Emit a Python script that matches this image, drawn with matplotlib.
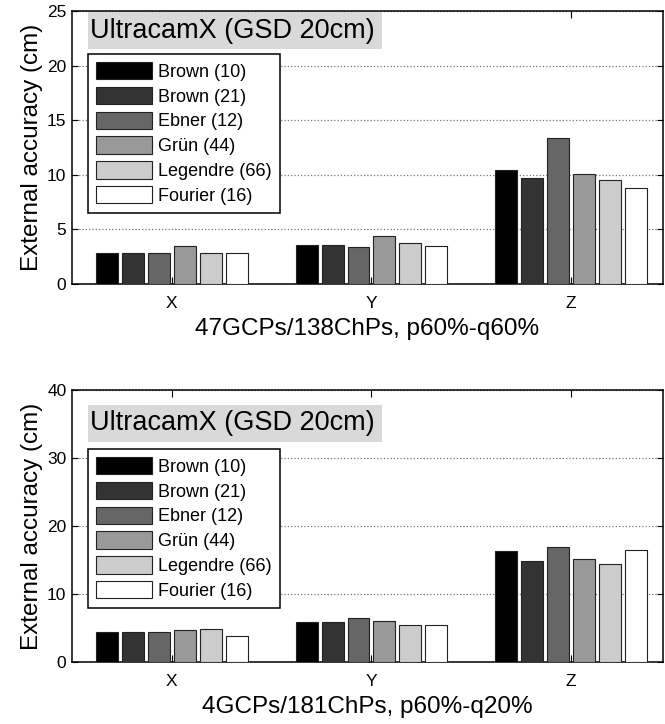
import numpy as np
import matplotlib
matplotlib.use('Agg')
import matplotlib.pyplot as plt
from matplotlib.patches import Patch, Rectangle

plt.rcParams['font.family'] = ['Liberation Sans', 'DejaVu Sans']

axes_labels = ['X', 'Y', 'Z']
methods = ['Brown (10)', 'Brown (21)', 'Ebner (12)', 'Grün (44)', 'Legendre (66)', 'Fourier (16)']
colors = ['#000000', '#333333', '#666666', '#999999', '#cccccc', '#ffffff']

# top panel: 47GCPs/138ChPs, p60%-q60%
top_vals = [
    [2.85, 3.6, 10.45],   # Brown (10)
    [2.85, 3.6, 9.7],     # Brown (21)
    [2.85, 3.35, 13.35],  # Ebner (12)
    [3.45, 4.35, 10.05],  # Grün (44)
    [2.85, 3.75, 9.55],   # Legendre (66)
    [2.85, 3.45, 8.8],    # Fourier (16)
]
# bottom panel: 4GCPs/181ChPs, p60%-q20%
bot_vals = [
    [4.45, 5.9, 16.3],
    [4.45, 5.9, 14.9],
    [4.45, 6.5, 16.95],
    [4.65, 6.1, 15.1],
    [4.85, 5.45, 14.45],
    [3.85, 5.45, 16.5],
]

W, H = 665, 724
fig = plt.figure(figsize=(W / 100, H / 100), dpi=100)


def px(x0, y0, x1, y1):
    # pixel box (top-left origin) -> figure rect
    return [x0 / W, 1 - y1 / H, (x1 - x0) / W, (y1 - y0) / H]


def panel(rect, vals, ymax, yticks, xlabel, legend_top, box_top):
    ax = fig.add_axes(rect)
    x = np.arange(1, 4)
    for i, v in enumerate(vals):
        ax.bar(x + (i - 2.5) * 0.13, v, width=0.11, color=colors[i],
               edgecolor='#222222', linewidth=0.8, zorder=3)
    ax.set_xlim(0.5, 3.46)
    ax.set_ylim(0, ymax)
    ax.set_xticks(x)
    ax.set_xticklabels(axes_labels, fontsize=12.5)
    ax.set_yticks(yticks)
    ax.tick_params(axis='y', labelsize=12.5, direction='in', length=4, pad=4, right=True)
    ax.tick_params(axis='x', direction='in', length=5, pad=9, top=True)
    ax.grid(axis='y', linestyle=':', color='#777777', linewidth=0.9, zorder=0)
    for s in ax.spines.values():
        s.set_linewidth(1.1)
    ax.set_ylabel('External accuracy (cm)', fontsize=17.5, labelpad=3)
    ax.set_xlabel(xlabel, fontsize=17.5, labelpad=5)

    # grey title box
    fig.patches.append(Rectangle((88 / W, 1 - (box_top + 37) / H), 294 / W, 37 / H,
                                 transform=fig.transFigure, facecolor='#d9d9d9',
                                 edgecolor='none', zorder=5))
    fig.text(90 / W, 1 - (box_top + 18.5) / H, 'UltracamX (GSD 20cm)', fontsize=19.5,
             va='center', ha='left', zorder=6)

    handles = [Patch(facecolor=c, edgecolor='#222222', linewidth=0.8) for c in colors]
    leg = ax.legend(handles, methods, loc='upper left',
                    bbox_to_anchor=(88 / W, 1 - legend_top / H),
                    bbox_transform=fig.transFigure, borderaxespad=0,
                    fontsize=13, handlelength=3.1, handleheight=1.1,
                    labelspacing=0.33, handletextpad=0.35, borderpad=0.45,
                    fancybox=False, framealpha=1, edgecolor='black')
    leg.get_frame().set_linewidth(1.1)
    leg.set_zorder(10)
    return ax


panel(px(72, 11, 663, 284), top_vals, 25, [0, 5, 10, 15, 20, 25],
      '47GCPs/138ChPs, p60%-q60%', 54, 12)
panel(px(72, 390, 663, 662), bot_vals, 40, [0, 10, 20, 30, 40],
      '4GCPs/181ChPs, p60%-q20%', 449, 405)

fig.savefig('out.png', dpi=100)
